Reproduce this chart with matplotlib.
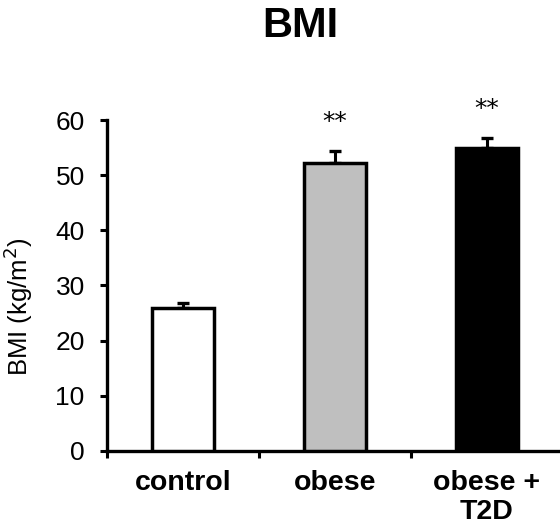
import matplotlib
matplotlib.use("Agg")
import matplotlib.pyplot as plt
import numpy as np

plt.rcParams['font.family'] = ['Liberation Sans', 'DejaVu Sans']

# data
groups = ['control', 'obese', 'obese +\nT2D']
bmi_mean = [26.0, 52.2, 55.0]
bmi_err = [0.8, 2.2, 1.8]
bar_colors = ['white', '#bfbfbf', 'black']
signif = ['', '**', '**']

fig = plt.figure(figsize=(5.6, 5.31), dpi=100)
ax = fig.add_axes([0.191, 0.1507, 0.814, 0.6233])

x = np.arange(len(groups))
ax.bar(x, bmi_mean, width=0.41, color=bar_colors, edgecolor='black',
       linewidth=2.5, zorder=3)
ax.errorbar(x, bmi_mean, yerr=[np.zeros(len(x)), bmi_err], fmt='none',
            ecolor='black', elinewidth=2.2, capsize=4.5, capthick=2.4, zorder=2)

for xi, m, e, s in zip(x, bmi_mean, bmi_err, signif):
    if s:
        ax.text(xi, m + e + 5.2, s, ha='center', va='center', fontsize=18,
                family='DejaVu Sans')

ax.set_xlim(-0.5, 2.5)
ax.set_ylim(0, 60)
ax.set_yticks([0, 10, 20, 30, 40, 50, 60])
ax.tick_params(axis='y', labelsize=19, direction='out', length=5, width=2.2, pad=11)

ax.set_xticks(x)
ax.set_xticklabels(groups, fontsize=20.5, fontweight='bold', linespacing=1.15)
ax.tick_params(axis='x', length=0, pad=14)
ax.set_xticks([-0.5, 0.5, 1.5], minor=True)
ax.tick_params(axis='x', which='minor', direction='out', length=5, width=2.2)

for side in ['top', 'right']:
    ax.spines[side].set_visible(False)
for side in ['left', 'bottom']:
    ax.spines[side].set_linewidth(2.4)

ax.set_ylabel('BMI (kg/m$^2$)', fontsize=18.5)
ax.yaxis.set_label_coords(-0.158, 0.435)

fig.text(0.536, 1 - 26 / 531, 'BMI', ha='center', va='center',
         fontsize=30, fontweight='bold')

fig.savefig('out.png', dpi=100)
